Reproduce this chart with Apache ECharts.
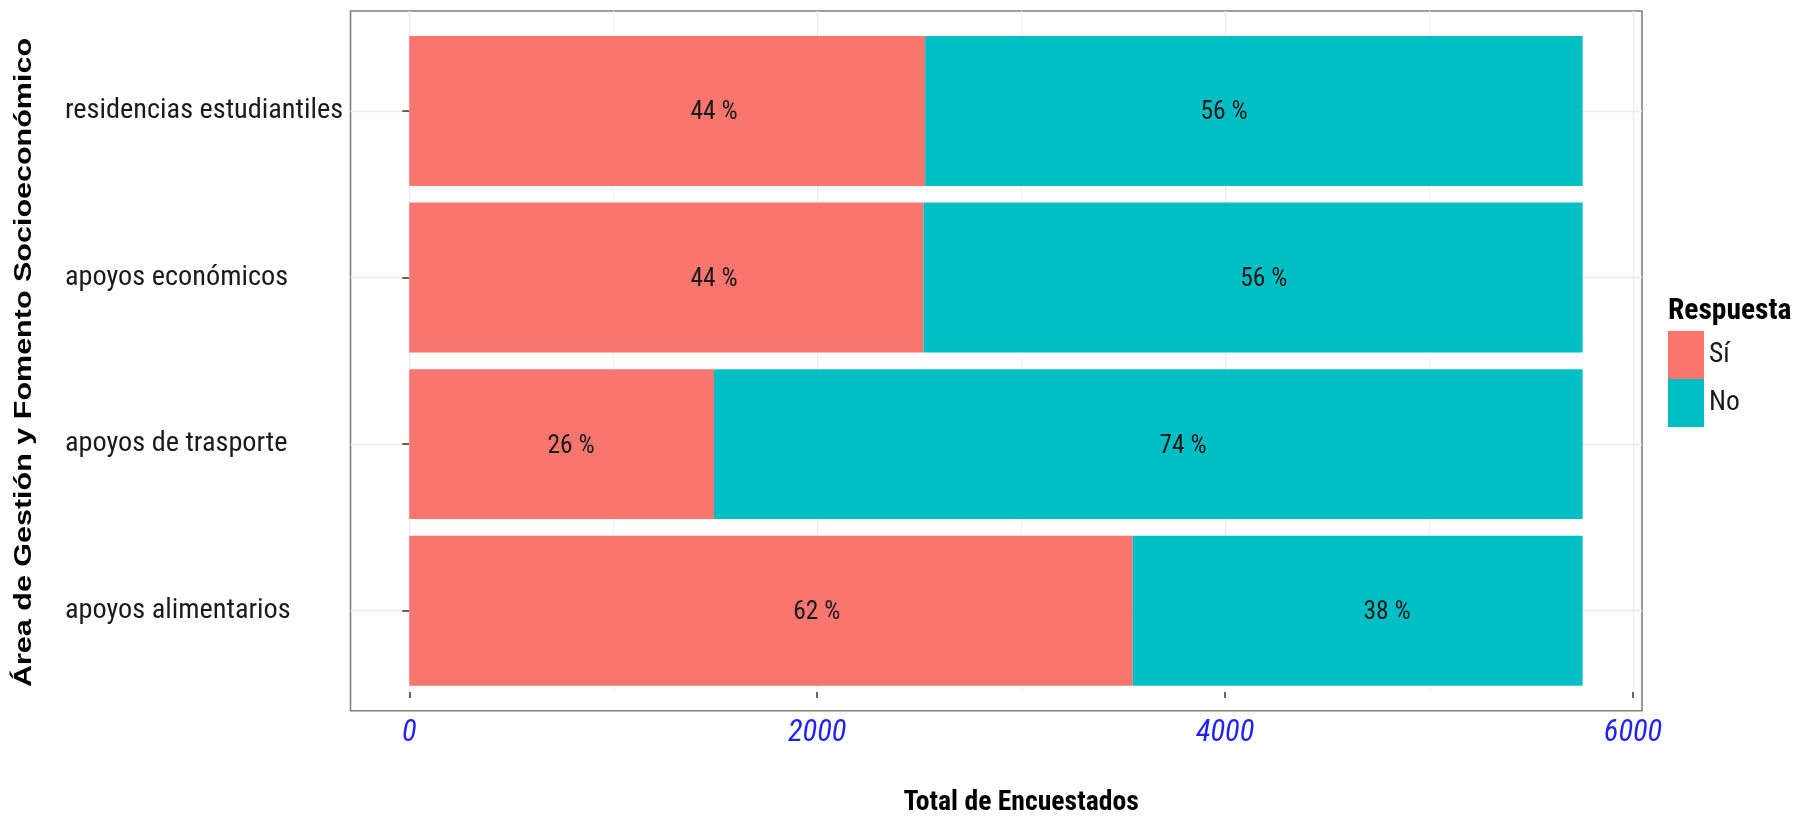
<!DOCTYPE html>
<html>
<head>
<meta charset="utf-8">
<script src="https://cdn.jsdelivr.net/npm/echarts@6/dist/echarts.min.js"></script>
<style>
html,body{margin:0;padding:0;background:#fff;}
#c{width:1798px;height:822px;}
</style>
</head>
<body>
<div id="c"></div>
<script>
// ---- data ----
const categories = ['apoyos alimentarios', 'apoyos de trasporte', 'apoyos económicos', 'residencias estudiantiles'];
const seriesNames = ['Sí', 'No'];
const valuesSi = [3547, 1494, 2522, 2529];
const valuesNo = [2206, 4259, 3231, 3224];
// x positions (in "Total de Encuestados" units) where the percentage labels sit
const labelAtSi = [1998, 793, 1494, 1494];
const labelAtNo = [4794, 3794, 4190, 3995];
const xTickValues = [0, 2000, 4000, 6000];
const xTitle = 'Total de Encuestados';
const yTitle = 'Área de Gestión y Fomento Socioeconómico';
const legendTitle = 'Respuesta';

// ---- layout ----
const NARROW = "'Roboto Condensed','Liberation Sans',sans-serif";
const P = { left: 350.5, top: 11, right: 1642, bottom: 710.7 };
const X0 = 409.3, X6 = 1633;
const PH = P.bottom - P.top;
const band = PH / 4.2;
const LABEL_LEFT = 65;

const pct = (a, b) => Math.round(a / (a + b) * 100) + ' %';
const labelData = [];
categories.forEach((c, i) => {
  labelData.push({ value: [labelAtSi[i], c], name: pct(valuesSi[i], valuesNo[i]) });
  labelData.push({ value: [labelAtNo[i], c], name: pct(valuesNo[i], valuesSi[i]) });
});

const chart = echarts.init(document.getElementById('c'), null, { renderer: 'canvas' });
const option = {
  animation: false,
  backgroundColor: '#ffffff',
  title: {
    text: legendTitle, left: 1668, top: 297, padding: 0,
    textStyle: { fontFamily: NARROW, fontWeight: 'bold', fontSize: 29.5, color: '#000' }
  },
  legend: {
    data: seriesNames, orient: 'vertical', left: 1668, top: 331, padding: 0,
    itemWidth: 36, itemHeight: 48, itemGap: 0, icon: 'rect',
    textStyle: { fontFamily: NARROW, fontSize: 27.5, color: '#1a1a1a', padding: [8, 0, 0, 0] }
  },
  grid: [
    { left: P.left, top: P.top, width: P.right - P.left, height: PH, show: true,
      backgroundColor: '#fff', borderColor: '#7f7f7f', borderWidth: 1.6, containLabel: false },
    { left: X0, top: P.top, width: X6 - X0, height: PH, containLabel: false },
    { left: X0, top: P.top + 0.1 * band, width: X6 - X0, height: 4 * band, containLabel: false },
    { left: P.left, top: P.top + 0.6 * band, width: P.right - P.left, height: 3 * band, containLabel: false }
  ],
  xAxis: [
    { gridIndex: 0, type: 'value', show: false, min: 0, max: 1 },
    { gridIndex: 1, type: 'value', min: xTickValues[0], max: xTickValues[xTickValues.length - 1], interval: 2000,
      axisLine: { show: false },
      axisTick: { show: true, length: 6, lineStyle: { color: '#333', width: 1.5 } },
      axisLabel: { color: '#1f1fff', fontStyle: 'italic', fontSize: 30.5, fontFamily: NARROW, margin: 26,
                   formatter: v => String(v) },
      splitLine: { show: true, lineStyle: { color: '#ebebeb', width: 1.3 } },
      minorTick: { show: false, splitNumber: 2 },
      minorSplitLine: { show: true, lineStyle: { color: '#f4f4f4', width: 1 } },
      name: xTitle, nameLocation: 'middle', nameGap: 97,
      nameTextStyle: { fontFamily: NARROW, fontWeight: 'bold', fontSize: 27.7, color: '#000' }
    },
    { gridIndex: 2, type: 'value', min: 0, max: 6000, show: false },
    { gridIndex: 3, type: 'value', min: 0, max: 1, show: false }
  ],
  yAxis: [
    { gridIndex: 0, type: 'value', show: false, min: 0, max: 1 },
    { gridIndex: 1, type: 'value', show: false, min: 0, max: 1 },
    { gridIndex: 2, type: 'category', data: categories, offset: X0 - P.left,
      axisLine: { show: false },
      axisTick: { show: true, alignWithLabel: true, length: 7, lineStyle: { color: '#333', width: 1.5 } },
      axisLabel: { fontFamily: NARROW, fontSize: 28.3, color: '#1a1a1a', align: 'left',
                   margin: P.left - LABEL_LEFT, padding: [6, 0, 0, 0] },
      splitLine: { show: false }
    },
    { gridIndex: 3, type: 'value', min: 0, max: 3, interval: 1,
      axisLine: { show: false }, axisTick: { show: false }, axisLabel: { show: false },
      splitLine: { show: true, lineStyle: { color: '#ebebeb', width: 1.3 } }
    }
  ],
  graphic: [
    { type: 'text', x: 24, y: 362.5, rotation: Math.PI / 2, scaleY: 0.78, silent: true,
      style: { text: yTitle, font: "bold 30.5px 'Liberation Sans', Arial, sans-serif",
               fill: '#000', align: 'center', verticalAlign: 'middle' } }
  ],
  series: [
    { name: seriesNames[0], type: 'bar', xAxisIndex: 2, yAxisIndex: 2, stack: 'total',
      barWidth: '90%', data: valuesSi, itemStyle: { color: '#F8766D' } },
    { name: seriesNames[1], type: 'bar', xAxisIndex: 2, yAxisIndex: 2, stack: 'total',
      barWidth: '90%', data: valuesNo, itemStyle: { color: '#00BFC4' } },
    { name: 'etiquetas', type: 'scatter', xAxisIndex: 2, yAxisIndex: 2, symbolSize: 0,
      itemStyle: { color: 'rgba(0,0,0,0)' }, silent: true, z: 5,
      label: { show: true, position: 'inside', offset: [0, 2], formatter: p => p.name,
               fontFamily: NARROW, fontSize: 25.5, color: '#1a1a1a', opacity: 1 },
      data: labelData }
  ]
};
chart.setOption(option);
</script>
</body>
</html>
